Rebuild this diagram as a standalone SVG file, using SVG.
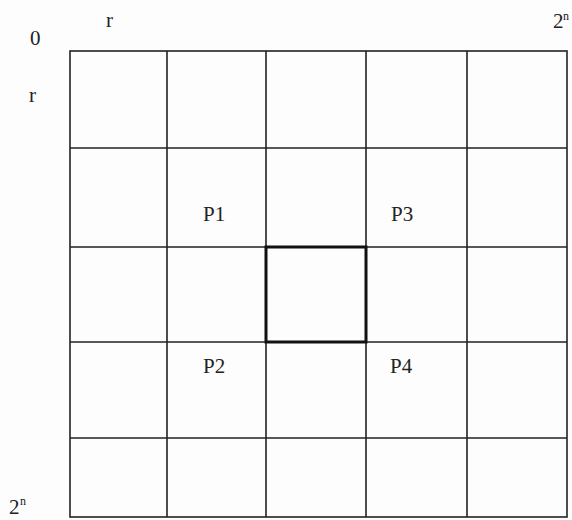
<svg xmlns="http://www.w3.org/2000/svg" width="572" height="520" viewBox="0 0 572 520">
<style>
.t{font-family:"Liberation Serif","Times New Roman",serif;font-size:21px;fill:#222}
.s{font-family:"Liberation Serif","Times New Roman",serif;font-size:12px;fill:#222}
.g{stroke:#222;stroke-width:1.6;fill:none}
.b{stroke:#111;stroke-width:3;fill:none}
</style>
<rect width="572" height="520" fill="#fdfdfd"/>
<g id="grid">
<rect class="g" x="70" y="51" width="497" height="466"/>
<path class="g" d="M167 51V517M266 51V517M366 51V517M467 51V517M70 148H567M70 247H567M70 342H567M70 438H567"/>
</g>
<g id="center">
<rect class="b" x="266" y="247" width="100" height="95"/>
</g>
<g id="labels">
<text class="t" x="30" y="45" font-size="17">0</text>
<text class="t" x="106" y="27">r</text>
<text class="t" x="29" y="102">r</text>
<text class="t" x="553" y="28">2</text><text class="s" x="563" y="20">n</text>
<text class="t" x="9" y="514" font-size="19">2</text><text class="s" x="20" y="505">n</text>
<text class="t" x="203" y="221">P1</text>
<text class="t" x="391" y="221">P3</text>
<text class="t" x="203" y="373">P2</text>
<text class="t" x="390" y="373">P4</text>
</g>
</svg>
